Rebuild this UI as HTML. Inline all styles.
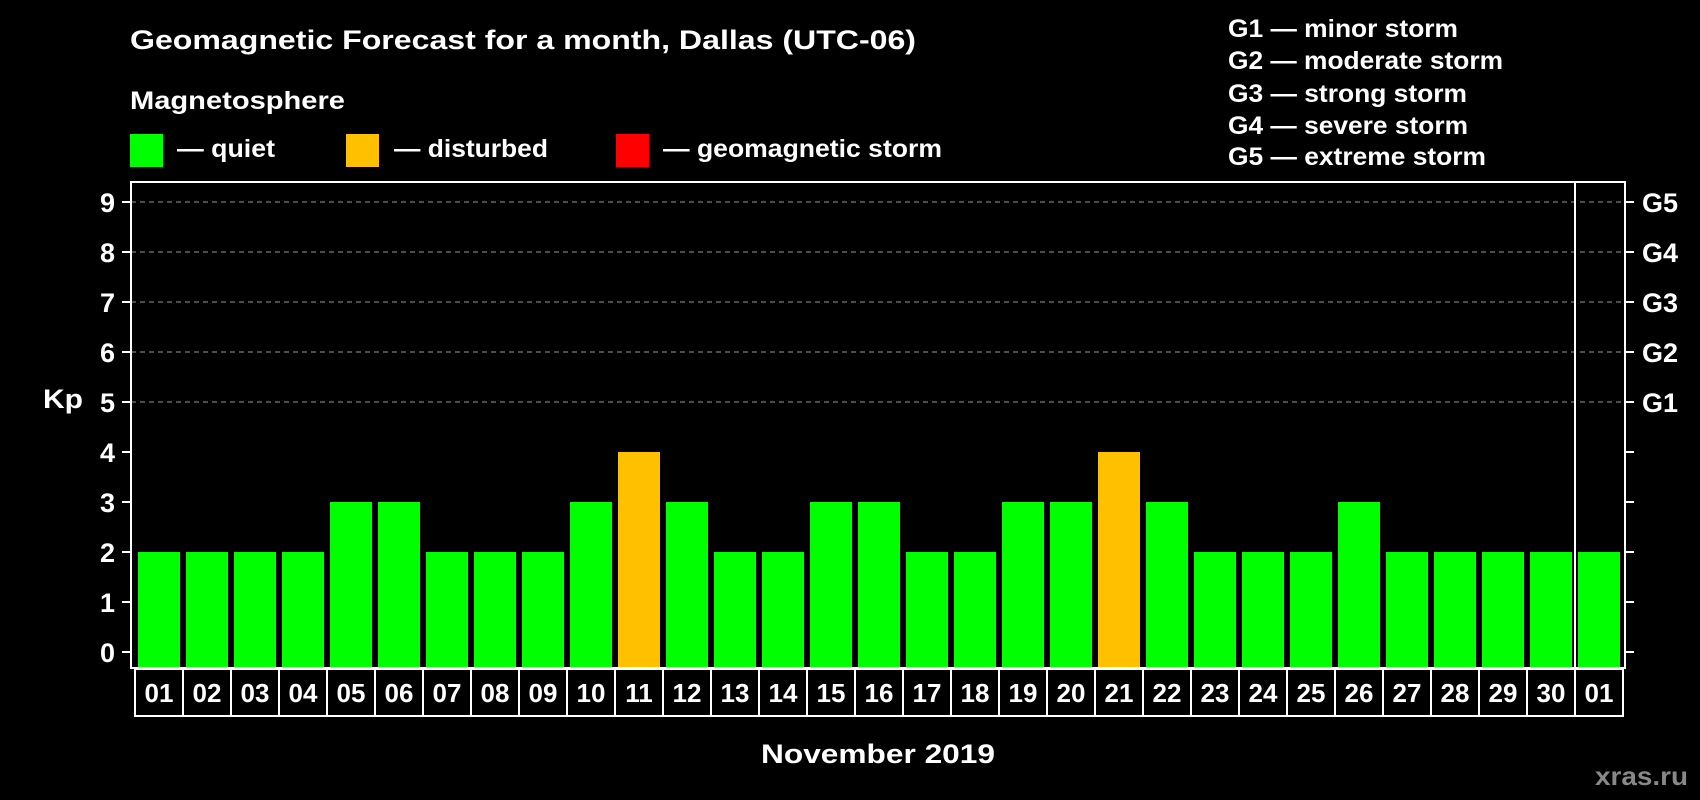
<!DOCTYPE html>
<html><head><meta charset="utf-8"><style>
html,body{margin:0;padding:0;background:#000}
svg{display:block}
text{font-family:"Liberation Sans",Arial,sans-serif;font-weight:bold;fill:#fff}
</style></head><body>
<svg id="chart" width="1700" height="800" viewBox="0 0 1700 800">
<rect width="1700" height="800" fill="#000"/>
<text x="130" y="49" font-size="27" textLength="786" lengthAdjust="spacingAndGlyphs">Geomagnetic Forecast for a month, Dallas (UTC-06)</text>
<text x="130" y="109" font-size="25" textLength="215" lengthAdjust="spacingAndGlyphs">Magnetosphere</text>
<rect x="130" y="134" width="33" height="33" fill="#00ff00"/>
<text x="177" y="157" font-size="25" textLength="98" lengthAdjust="spacingAndGlyphs">— quiet</text>
<rect x="346" y="134" width="33" height="33" fill="#ffc000"/>
<text x="394" y="157" font-size="25" textLength="154" lengthAdjust="spacingAndGlyphs">— disturbed</text>
<rect x="616" y="134" width="33" height="33" fill="#ff0000"/>
<text x="663" y="157" font-size="25" textLength="279" lengthAdjust="spacingAndGlyphs">— geomagnetic storm</text>
<g font-size="25">
<text x="1228" y="37" textLength="230" lengthAdjust="spacingAndGlyphs">G1 — minor storm</text>
<text x="1228" y="69" textLength="275" lengthAdjust="spacingAndGlyphs">G2 — moderate storm</text>
<text x="1228" y="102" textLength="239" lengthAdjust="spacingAndGlyphs">G3 — strong storm</text>
<text x="1228" y="134" textLength="240" lengthAdjust="spacingAndGlyphs">G4 — severe storm</text>
<text x="1228" y="165" textLength="258" lengthAdjust="spacingAndGlyphs">G5 — extreme storm</text>
</g>
<text x="43" y="408" font-size="27" textLength="40" lengthAdjust="spacingAndGlyphs">Kp</text>
<text x="761" y="763" font-size="27" textLength="234" lengthAdjust="spacingAndGlyphs">November 2019</text>
<text x="1595" y="785" font-size="26" textLength="93" lengthAdjust="spacingAndGlyphs" style="fill:#888">xras.ru</text>
<g id="grid"></g><g id="bars"></g><g id="axes"></g>
</svg>
<script>
const days=["01","02","03","04","05","06","07","08","09","10","11","12","13","14","15","16","17","18","19","20","21","22","23","24","25","26","27","28","29","30","01"];
const kp=[2,2,2,2,3,3,2,2,2,3,4,3,2,2,3,3,2,2,3,3,4,3,2,2,2,3,2,2,2,2,2];
const yTicks=[0,1,2,3,4,5,6,7,8,9];
const gLabels=["G1","G2","G3","G4","G5"];
const NS="http://www.w3.org/2000/svg";
const L=131,R=1625,T=182,B=668,pitch=48,x0=135,bw=42;
const y=v=>652-v*50;
const xb=i=>x0+i*pitch;
function mk(tag,attrs,parent){const e=document.createElementNS(NS,tag);for(const k in attrs)e.setAttribute(k,attrs[k]);parent.appendChild(e);return e;}
const grid=document.getElementById('grid'),bars=document.getElementById('bars'),axes=document.getElementById('axes');
yTicks.forEach(v=>{
  if(v>=5){const g=mk('line',{x1:L,x2:R,y1:y(v),y2:y(v),stroke:'#999','stroke-dasharray':'5,4','stroke-width':1},grid);
  
  }
  const t1=mk('line',{x1:122,x2:L,y1:y(v),y2:y(v),stroke:'#fff','stroke-width':2},axes);
  
  
  const t2=mk('line',{x1:R,x2:1634,y1:y(v),y2:y(v),stroke:'#fff','stroke-width':2},axes);
  
  
  const tx=mk('text',{x:115,y:y(v)+10,'font-size':27,'text-anchor':'end'},axes);tx.textContent=v;
  
  
});
gLabels.forEach((g,i)=>{const tx=mk('text',{x:1642,y:y(5+i)+10,'font-size':27},axes);tx.textContent=g;
  
  });
kp.forEach((v,i)=>{
  const c=v>=5?'#ff0000':(v>=4?'#ffc000':'#00ff00');
  const r=mk('rect',{x:xb(i)+3,y:y(v),width:bw,height:B-y(v),fill:c},bars);
  
  
});
const box=mk('rect',{x:L,y:T,width:R-L,height:B-T,fill:'none',stroke:'#fff','stroke-width':2},axes);


const sep=mk('line',{x1:xb(30),x2:xb(30),y1:T,y2:B,stroke:'#fff','stroke-width':2},axes);


days.forEach((d,i)=>{
  const c=mk('rect',{x:xb(i),y:669,width:pitch,height:47,fill:'none',stroke:'#fff','stroke-width':2},axes);
  
  
  const t=mk('text',{x:xb(i)+pitch/2,y:702,'font-size':26,'text-anchor':'middle'},axes);t.textContent=d;
  
  
});
</script>
</body></html>
